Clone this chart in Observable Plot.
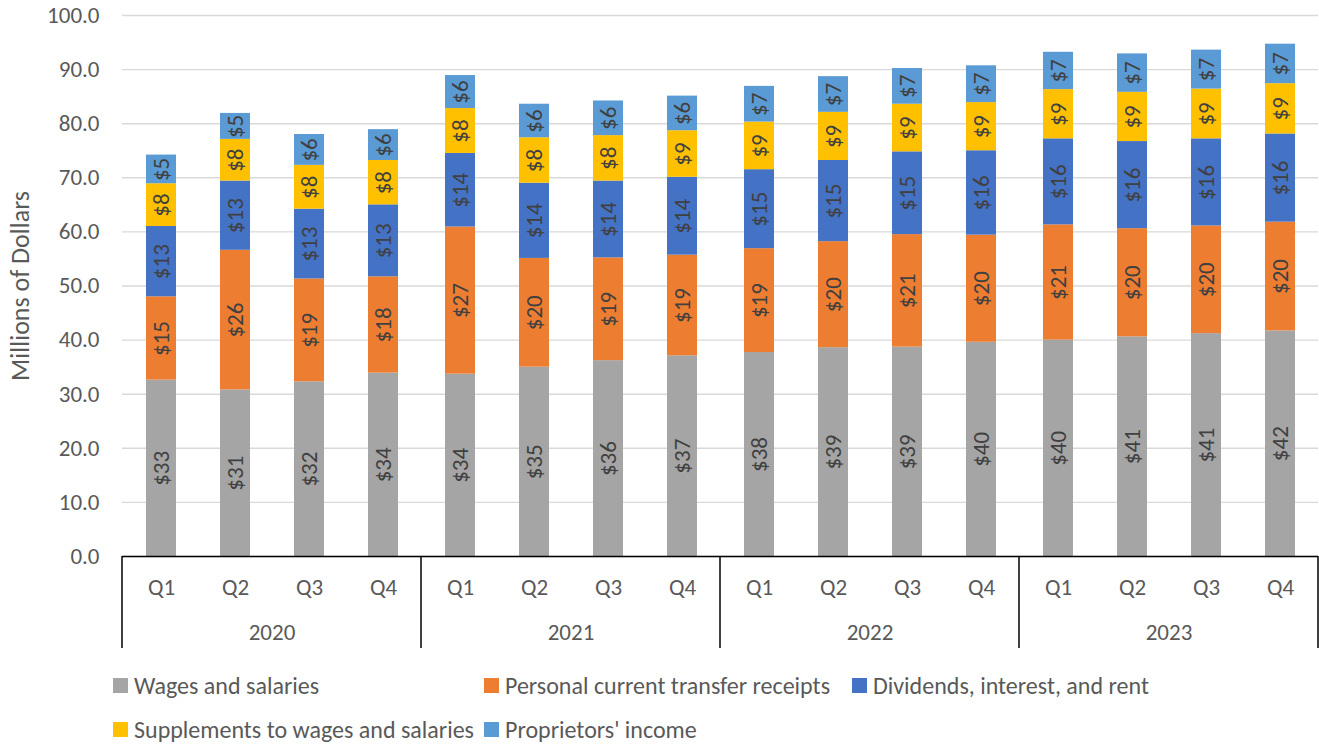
<!DOCTYPE html>
<html>
<head>
<meta charset="utf-8">
<script src="https://cdn.jsdelivr.net/npm/d3@7"></script>
<script src="https://cdn.jsdelivr.net/npm/@observablehq/plot@0.6"></script>
<style>
  html, body { margin: 0; padding: 0; background: #fff; }
  #wrap { width: 1319px; height: 744px; position: relative; overflow: hidden; }
  #legend {
    display: grid;
    grid-template-columns: 371px 368px 370px;
    grid-auto-rows: 44px;
    padding-left: 113px;
    padding-top: 3px;
    font-family: Carlito, Calibri, Lato, sans-serif;
    font-size: 24px;
    color: #595959;
  }
  .item { display: flex; align-items: center; white-space: nowrap; }
  .sw { width: 15px; height: 15px; margin-right: 6px; flex: none; }
</style>
</head>
<body>
<div id="wrap">
  <div id="chart"></div>
  <div id="legend"></div>
</div>
<script>
const FONT = "Carlito, Calibri, Lato, sans-serif";

const years = ["2020", "2021", "2022", "2023"];
const quarters = ["Q1", "Q2", "Q3", "Q4"];
const seriesNames = [
  "Wages and salaries",
  "Personal current transfer receipts",
  "Dividends, interest, and rent",
  "Supplements to wages and salaries",
  "Proprietors' income"
];
const seriesColors = ["#a5a5a5", "#ed7d31", "#4472c4", "#ffc000", "#5b9bd5"];
const yTicks = [0, 10, 20, 30, 40, 50, 60, 70, 80, 90, 100];

// values per quarter, 2020 Q1 ... 2023 Q4 (millions of dollars)
const wages        = [32.6, 30.8, 32.3, 33.9, 33.7, 35.0, 36.2, 37.1, 37.7, 38.6, 38.7, 39.6, 40.0, 40.6, 41.2, 41.7];
const transfers    = [15.4, 25.8, 19.0, 17.8, 27.2, 20.1, 19.0, 18.6, 19.2, 19.6, 20.8, 19.8, 21.3, 20.0, 19.9, 20.1];
const dividends    = [13.0, 12.8, 12.9, 13.3, 13.6, 13.9, 14.2, 14.4, 14.6, 15.0, 15.3, 15.6, 15.9, 16.1, 16.1, 16.3];
const supplements  = [7.9, 7.7, 8.1, 8.2, 8.3, 8.4, 8.4, 8.6, 8.8, 8.9, 8.8, 8.9, 9.1, 9.1, 9.2, 9.3];
const proprietors  = [5.3, 4.8, 5.7, 5.7, 6.1, 6.2, 6.4, 6.4, 6.6, 6.6, 6.6, 6.8, 6.9, 7.1, 7.2, 7.3];

const seriesValues = [wages, transfers, dividends, supplements, proprietors];

const table = [];
years.forEach((yr, i) => {
  quarters.forEach((q, j) => {
    const idx = i * quarters.length + j;
    seriesNames.forEach((s, k) => {
      table.push({year: yr, quarter: q, series: s, value: seriesValues[k][idx]});
    });
  });
});

const plot = Plot.plot({
  width: 1319,
  height: 660,
  marginLeft: 121,
  marginRight: 1,
  marginTop: 15,
  marginBottom: 104,
  style: {fontFamily: FONT, fontSize: "23px", color: "#595959", background: "#fff", overflow: "visible"},
  fx: {domain: years, padding: 0, label: null},
  x: {domain: quarters, paddingInner: 0.6, paddingOuter: 0.3, label: null},
  y: {domain: [0, 100], label: null},
  color: {domain: seriesNames, range: seriesColors},
  marks: [
    Plot.gridY(yTicks, {stroke: "#d9d9d9", strokeOpacity: 1, strokeWidth: 1.4}),
    Plot.axisY(yTicks, {
      tickFormat: d3.format(".1f"), tickSize: 0, tickPadding: 23,
      fontSize: 23, fill: "#595959",
      label: "Millions of Dollars", labelAnchor: "center", labelArrow: "none", labelOffset: 112
    }),
    Plot.barY(table, {fx: "year", x: "quarter", y: "value", fill: "series", z: "series", order: seriesNames}),
    Plot.text(table, Plot.stackY({
      fx: "year", x: "quarter", y: "value", z: "series", order: seriesNames,
      text: d => "$" + Math.round(d.value),
      rotate: -90, fill: "#404040", fontSize: 23
    })),
    Plot.ruleY([0], {stroke: "#000", strokeWidth: 1.5}),
    Plot.axisX({tickSize: 0, tickPadding: 22, fontSize: 23, fill: "#595959", label: null}),
    Plot.axisFx({anchor: "bottom", tickSize: 0, tickPadding: 67, fontSize: 23, fill: "#595959", label: null})
  ]
});

document.getElementById("chart").appendChild(plot);

// enlarge the y-axis title only
d3.select(plot).selectAll("text").filter(function () {
  return this.textContent === "Millions of Dollars";
}).attr("font-size", 26);

// year separators on the category axis, positioned from the fx band scale
const fxs = plot.scale("fx");
const ys = plot.scale("y");
const base = ys.apply(0);
const edges = years.map(yr => fxs.apply(yr));
edges.push(fxs.apply(years[years.length - 1]) + fxs.bandwidth);
const svg = d3.select(plot);
svg.append("g")
  .selectAll("line")
  .data(edges)
  .join("line")
  .attr("x1", d => d).attr("x2", d => d)
  .attr("y1", base).attr("y2", base + 92)
  .attr("stroke", "#000").attr("stroke-width", 1.5);

// legend
const legend = d3.select("#legend");
seriesNames.forEach((s, k) => {
  const it = legend.append("div").attr("class", "item");
  it.append("span").attr("class", "sw").style("background", seriesColors[k]);
  it.append("span").text(s);
});
</script>
</body>
</html>
